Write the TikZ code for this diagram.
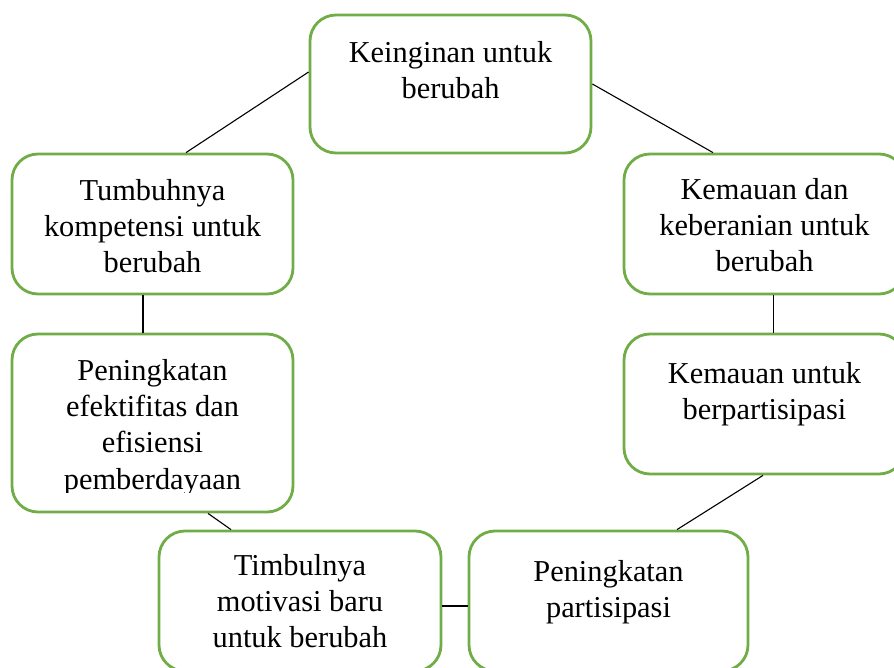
\documentclass[tikz,border=0pt]{standalone}
\usepackage{fontspec}
\setmainfont{Liberation Serif}
\definecolor{boxgreen}{HTML}{70AD47}
\begin{document}
\begin{tikzpicture}[x=1bp,y=-1bp,
  box/.style={draw=boxgreen, line width=2.8bp, rounded corners=26bp, fill=white, inner sep=0pt},
  txt/.style={align=center, inner sep=0pt, anchor=north, font=\fontsize{30.5}{36.5}\selectfont},
  link/.style={draw=black, line width=1.1bp}]
\useasboundingbox (0,0) rectangle (894,668);
\begin{scope}
\clip (0,0) rectangle (894,668);
\node[box, minimum width=281bp, minimum height=138bp] (b1) at (450.5,84) {};
\node[box, minimum width=281bp, minimum height=140bp] (b2) at (152.5,224) {};
\node[box, minimum width=281bp, minimum height=140bp] (b3) at (764.5,224) {};
\node[box, minimum width=281bp, minimum height=178bp] (b4) at (152.5,423) {};
\node[box, minimum width=281bp, minimum height=140bp] (b5) at (764.5,404) {};
\node[box, minimum width=282bp, minimum height=140bp] (b6) at (300,601) {};
\node[box, minimum width=279bp, minimum height=140bp] (b7) at (608.5,601) {};

\node[txt] (t1) at (450.5,36.5) {\strut Keinginan untuk\\\strut berubah};
\node[txt] (t2) at (152.5,174.5) {\strut Tumbuhnya\\\strut kompetensi untuk\\\strut berubah};
\node[txt] (t3) at (764.5,173.5) {\strut Kemauan dan\\\strut keberanian untuk\\\strut berubah};
\begin{scope}
\clip (0,330) rectangle (894,492);
\node[txt] (t4) at (152.5,354.5) {\strut Peningkatan\\\strut efektifitas dan\\\strut efisiensi\\\strut pemberdayaan};
\end{scope}
\node[txt] (t5) at (764.5,357.5) {\strut Kemauan untuk\\\strut berpartisipasi};
\node[txt] (t6) at (300,549.5) {\strut Timbulnya\\\strut motivasi baru\\\strut untuk berubah};
\node[txt] (t7) at (608.5,555.5) {\strut Peningkatan\\\strut partisipasi};

\draw[link] ([yshift=12bp]b1.west) -- ([xshift=33.5bp]b2.north);
\draw[link] (b1.east) -- ([xshift=-51.5bp]b3.north);
\draw[link] ([xshift=-9.5bp]b2.south) -- ([xshift=-9.5bp]b4.north);
\draw[link] ([xshift=9bp]b3.south) -- ([xshift=9bp]b5.north);
\draw[link] ([xshift=-1.5bp]b5.south) -- ([xshift=68.5bp]b7.north);
\draw[link] ([xshift=55.5bp]b4.south) -- ([xshift=-69bp]b6.north);
\draw[link] ([yshift=-5bp]b6.east) -- ([yshift=-5bp]b7.west);
\end{scope}
\end{tikzpicture}
\end{document}
